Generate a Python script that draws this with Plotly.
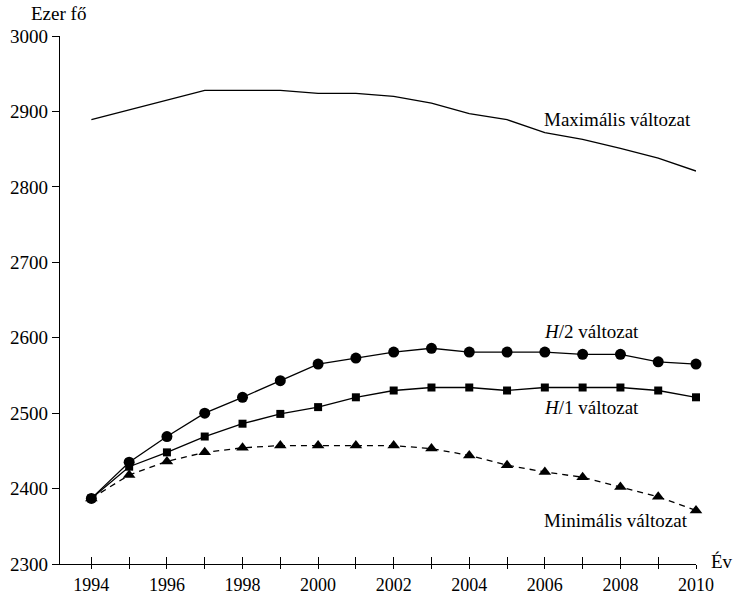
import plotly.graph_objects as go

years = list(range(1994, 2011))
maximalis = [2889, 2902, 2915, 2928, 2928, 2928, 2924, 2924, 2920, 2911, 2897, 2889, 2872, 2863, 2851, 2838, 2821]
h2 = [2387, 2435, 2469, 2500, 2521, 2543, 2565, 2573, 2581, 2586, 2581, 2581, 2581, 2578, 2578, 2568, 2565]
h1 = [2387, 2429, 2448, 2469, 2486, 2499, 2508, 2521, 2530, 2534, 2534, 2530, 2534, 2534, 2534, 2530, 2521]
minimalis = [2387, 2418, 2436, 2448, 2454, 2457, 2457, 2457, 2457, 2453, 2444, 2431, 2422, 2415, 2402, 2389, 2371]

x_ticktext = [str(y) if y % 2 == 0 else "" for y in years]
y_ticks = [2300, 2400, 2500, 2600, 2700, 2800, 2900, 3000]

FONT = "Liberation Serif"
FS = 19
line_style = dict(color="black", width=1.3)

fig = go.Figure()
fig.add_trace(go.Scatter(x=years, y=maximalis, mode="lines", line=line_style, cliponaxis=False))
fig.add_trace(go.Scatter(x=years, y=h2, mode="lines+markers", line=line_style,
                         marker=dict(symbol="circle", size=11, color="black"), cliponaxis=False))
fig.add_trace(go.Scatter(x=years, y=h1, mode="lines+markers", line=line_style,
                         marker=dict(symbol="square", size=8, color="black"), cliponaxis=False))
fig.add_trace(go.Scatter(x=years, y=minimalis, mode="lines+markers",
                         line=dict(color="black", width=1.3, dash="6px,5px"),
                         marker=dict(symbol="triangle-up", size=11, color="black"), cliponaxis=False))
# invisible trace to carry the inner half of the crossing x ticks
fig.add_trace(go.Scatter(x=years, y=h1, mode="none", xaxis="x2", showlegend=False, hoverinfo="skip"))

labels = [
    (2007.92, 2889, "Maximális változat"),
    (2007.24, 2608, "<i>H</i>/2 változat"),
    (2007.24, 2508, "<i>H</i>/1 változat"),
    (2007.87, 2358, "Minimális változat"),
]
for lx, ly, txt in labels:
    fig.add_annotation(x=lx, y=ly, text=txt, showarrow=False,
                       font=dict(family=FONT, size=FS, color="black"))

fig.add_annotation(x=2010, y=2300, xref="x", yref="y", text="Év", showarrow=False,
                   xanchor="left", yanchor="middle", xshift=13, yshift=3,
                   font=dict(family=FONT, size=FS, color="black"))
fig.add_annotation(x=0, y=1, xref="paper", yref="paper", text="Ezer fő", showarrow=False,
                   xanchor="center", yanchor="middle", xshift=-2, yshift=23,
                   font=dict(family=FONT, size=FS, color="black"))

fig.update_layout(
    width=734, height=593,
    margin=dict(l=60, r=38, t=36, b=29, autoexpand=False),
    paper_bgcolor="white", plot_bgcolor="white",
    showlegend=False,
    font=dict(family=FONT, size=FS, color="black"),
    xaxis=dict(range=[1993.17, 2010], tickvals=years, ticktext=x_ticktext,
               ticks="outside", ticklen=4, tickwidth=1.2, tickcolor="black",
               showline=True, linecolor="black", linewidth=1.3,
               showgrid=False, zeroline=False, automargin=False,
               tickfont=dict(family=FONT, size=18, color="black")),
    xaxis2=dict(range=[1993.17, 2010], overlaying="x", side="bottom", anchor="y",
                tickvals=years, ticks="inside", ticklen=7, tickwidth=1.2, tickcolor="black",
                showticklabels=False, showline=False, showgrid=False, zeroline=False,
                automargin=False),
    yaxis=dict(range=[2300, 3000], tickvals=y_ticks,
               ticks="outside", ticklen=7, tickwidth=1.2, tickcolor="black",
               showline=True, linecolor="black", linewidth=1.3,
               showgrid=False, zeroline=False, automargin=False,
               tickfont=dict(family=FONT, size=FS, color="black")),
)

# remove the default page margin so the 734x593 figure fills the window exactly
fig.write_html("out.html", config={"displayModeBar": False},
               post_script="document.body.style.margin='0';")
